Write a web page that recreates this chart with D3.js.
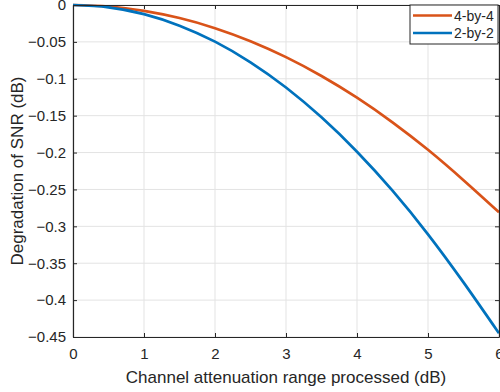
<!DOCTYPE html>
<html>
<head>
<meta charset="utf-8">
<script src="https://cdn.jsdelivr.net/npm/d3@7"></script>
<style>
  html, body { margin: 0; padding: 0; background: #fff; }
  text { font-family: "Liberation Sans", Arial, sans-serif; }
</style>
</head>
<body>
<svg id="chart" width="500" height="392"></svg>
<script>
const xValues = [0, 0.5, 1, 1.5, 2, 2.5, 3, 3.5, 4, 4.5, 5, 5.5, 6];
const series4by4 = [0, -0.002, -0.008, -0.0177, -0.0314, -0.0491, -0.0707, -0.0962, -0.1256, -0.159, -0.1963, -0.2375, -0.281];
const series2by2 = [0, -0.0031, -0.0124, -0.028, -0.0497, -0.0777, -0.1119, -0.1523, -0.1989, -0.2517, -0.3108, -0.376, -0.445];
const seriesNames = ["4-by-4", "2-by-2"];
const seriesColors = ["#D95319", "#0072BD"];
const xTicks = [0, 1, 2, 3, 4, 5, 6];
const yTicks = [0, -0.05, -0.1, -0.15, -0.2, -0.25, -0.3, -0.35, -0.4, -0.45];
const xLabel = "Channel attenuation range processed (dB)";
const yLabel = "Degradation of SNR (dB)";

const svg = d3.select("#chart");
const m = { left: 73, right: 499, top: 5, bottom: 337 };
const x = d3.scaleLinear().domain([0, 6]).range([m.left, m.right]);
const y = d3.scaleLinear().domain([-0.45, 0]).range([m.bottom, m.top]);
const axisColor = "#262626";

// grid
const g = svg.append("g");
g.selectAll(".vg").data(xTicks).enter().append("line")
  .attr("x1", d => x(d)).attr("x2", d => x(d)).attr("y1", m.top).attr("y2", m.bottom)
  .attr("stroke", "#e3e3e3").attr("stroke-width", 1);
g.selectAll(".hg").data(yTicks).enter().append("line")
  .attr("y1", d => y(d)).attr("y2", d => y(d)).attr("x1", m.left).attr("x2", m.right)
  .attr("stroke", "#e3e3e3").attr("stroke-width", 1);

// lines
const allSeries = [series4by4, series2by2];
const line = d3.line().x((d, i) => x(xValues[i])).y(d => y(d)).curve(d3.curveNatural);
allSeries.forEach((s, k) => {
  svg.append("path").datum(s).attr("d", line)
    .attr("fill", "none").attr("stroke", seriesColors[k]).attr("stroke-width", 2.7);
});

// axes (MATLAB-like box with inward ticks on all sides)
const tickLen = 4;
const axBottom = d3.axisBottom(x).tickValues(xTicks).tickSizeInner(-tickLen).tickSizeOuter(0).tickPadding(11).tickFormat(d3.format("d"));
const axLeft = d3.axisLeft(y).tickValues(yTicks).tickSizeInner(-tickLen).tickSizeOuter(0).tickPadding(7).tickFormat(d => d === 0 ? "0" : d3.format("")(d));
const axTop = d3.axisTop(x).tickValues(xTicks).tickSizeInner(-tickLen).tickSizeOuter(0).tickFormat("");
const axRight = d3.axisRight(y).tickValues(yTicks).tickSizeInner(-tickLen).tickSizeOuter(0).tickFormat("");

function style(sel) {
  sel.selectAll("path").attr("stroke", axisColor).attr("stroke-width", 1.2);
  sel.selectAll("line").attr("stroke", axisColor).attr("stroke-width", 1);
  sel.selectAll("text").attr("fill", axisColor).style("font-size", "15px").style("font-family", "'Liberation Sans', Arial, sans-serif");
}
svg.append("g").attr("transform", `translate(0,${m.bottom})`).call(axBottom).call(style);
svg.append("g").attr("transform", `translate(${m.left},0)`).call(axLeft).call(style);
svg.append("g").attr("transform", `translate(0,${m.top})`).call(axTop).call(style);
svg.append("g").attr("transform", `translate(${m.right},0)`).call(axRight).call(style);

// axis labels
svg.append("text").attr("x", 286).attr("y", 383)
  .attr("text-anchor", "middle").attr("fill", axisColor).style("font-size", "17px").text(xLabel);
svg.append("text").attr("transform", `translate(23,${(m.top + m.bottom) / 2}) rotate(-90)`)
  .attr("text-anchor", "middle").attr("fill", axisColor).style("font-size", "17px").text(yLabel);

// legend
const lg = svg.append("g");
lg.append("rect").attr("x", 410).attr("y", 5).attr("width", 88).attr("height", 39)
  .attr("fill", "#fff").attr("stroke", axisColor).attr("stroke-width", 1);
seriesNames.forEach((name, k) => {
  const yy = 15.5 + k * 17.5;
  lg.append("line").attr("x1", 413).attr("x2", 452).attr("y1", yy).attr("y2", yy)
    .attr("stroke", seriesColors[k]).attr("stroke-width", 2.7);
  lg.append("text").attr("x", 454).attr("y", yy + 5).attr("fill", axisColor)
    .style("font-size", "14px").text(name);
});
</script>
</body>
</html>
